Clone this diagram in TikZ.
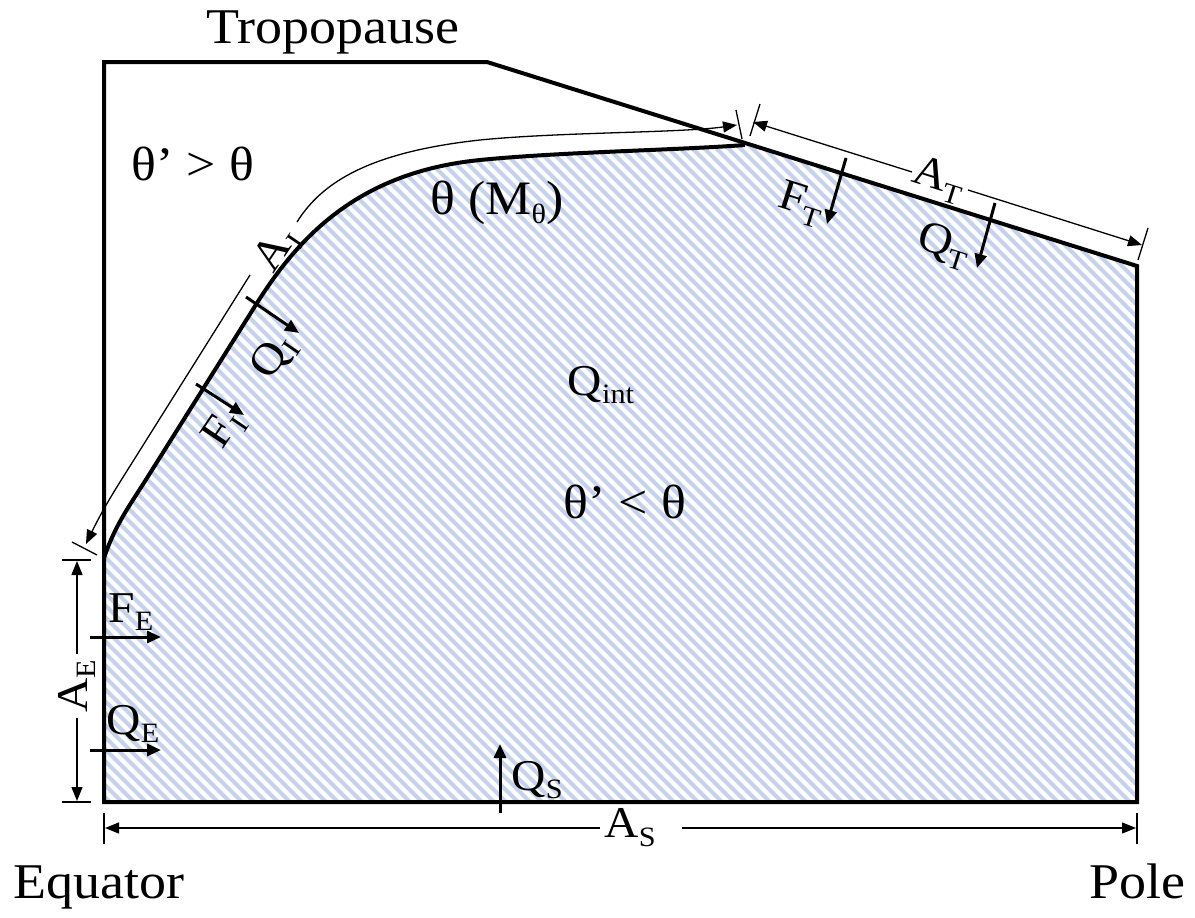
\documentclass[tikz,border=0pt]{standalone}
\usepackage{fontspec}
\setmainfont{Liberation Serif}[FakeStretch=1.08]
\usetikzlibrary{arrows.meta}
\definecolor{hatchblue}{RGB}{198,210,236}
\newcommand\sbx[1]{\raisebox{-0.2em}{\fontsize{28}{28}\selectfont #1}}
\begin{document}
\begin{tikzpicture}[x=1pt,y=-1pt,
  bound/.style={line width=4pt, line join=miter},
  hatchline/.style={hatchblue, line width=4.2pt},
  flux/.style={line width=3pt, -{Triangle[length=14pt,width=12pt]}},
  dimline/.style={line width=1.3pt},
  dimtip/.style={-{Triangle[length=14pt,width=11pt]}},
  tickline/.style={line width=1.3pt},
  big/.style={font=\fontsize{50}{50}\selectfont, inner sep=0pt},
  reg/.style={font=\fontsize{48}{48}\selectfont, inner sep=0pt},
  lab/.style={font=\fontsize{44}{44}\selectfont, inner sep=0pt}]
\useasboundingbox (0,0) rectangle (1195,918);
% corners
\coordinate (tl) at (104,62);
\coordinate (tk) at (487,62);
\coordinate (tr) at (1137,266);
\coordinate (br) at (1137,802);
\coordinate (bl) at (104,802);
\coordinate (cw) at (104,558);
\coordinate (tj) at (745,145);
% hatch
\begin{scope}
  \clip (cw) .. controls (115,525) and (130,505) .. (147,478) -- (257,303)
      .. controls (300,235) and (360,172) .. (480,160)
      .. controls (560,152) and (680,150) .. (tj) -- (tr) -- (br) -- (bl) -- cycle;
  \foreach \i in {-700,-688,...,1100} \draw[hatchline] (\i,40) -- ++(900,900);
\end{scope}
% isentrope
\draw[bound, line join=round] (cw) .. controls (115,525) and (130,505) .. (147,478) -- (257,303)
      .. controls (300,235) and (360,172) .. (480,160)
      .. controls (560,152) and (680,150) .. (tj);
% boundary
\draw[bound] (tl) -- (tk) -- (tr) -- (br) -- (bl) -- cycle;
% A_I dimension
\coordinate (ailo) at (86,544); \coordinate (aigap1) at (250,275);
\coordinate (aigap2) at (297,222); \coordinate (aihi) at (737,125);
\draw[dimline, dimtip] (aigap1) -- (120,482) .. controls (110,498) and (100,515) .. (ailo);
\draw[dimline, dimtip] (aigap2) .. controls (322,182) and (370,152) .. (480,140)
      .. controls (560,132) and (680,133) .. (aihi);
\coordinate (ai1) at (72,542); \coordinate (ai2) at (97,555);
\draw[tickline] (ai1) -- (ai2);
\coordinate (ai3) at (736,110); \coordinate (ai4) at (742,139);
\draw[tickline] (ai3) -- (ai4);
\node[lab, rotate=56] (AI) at (278,250) {A\sbx{I}};
% A_T dimension
\coordinate (at1) at (753,122); \coordinate (at2) at (912,172);
\coordinate (at3) at (968,190); \coordinate (at4) at (1142,245);
\draw[dimline, dimtip] (at2) -- (at1);
\draw[dimline, dimtip] (at3) -- (at4);
\coordinate (at5) at (760,104); \coordinate (at6) at (750,136);
\draw[tickline] (at5) -- (at6);
\coordinate (at7) at (1148,228); \coordinate (at8) at (1138,260);
\draw[tickline] (at7) -- (at8);
\node[lab, rotate=-17.5] (AT) at (939,180) {A\sbx{T}};
% A_E dimension
\coordinate (ae1) at (77,654); \coordinate (ae2) at (77,561);
\coordinate (ae3) at (77,718); \coordinate (ae4) at (77,801);
\draw[dimline, dimtip] (ae1) -- (ae2);
\draw[dimline, dimtip] (ae3) -- (ae4);
\coordinate (ae5) at (62,560); \coordinate (ae6) at (91,560);
\draw[tickline] (ae5) -- (ae6);
\coordinate (ae7) at (62,802); \coordinate (ae8) at (91,802);
\draw[tickline] (ae7) -- (ae8);
\node[lab, rotate=90] (AE) at (77,686) {A\sbx{E}};
% A_S dimension
\coordinate (as1) at (600,828); \coordinate (as2) at (105,828);
\coordinate (as3) at (682,828); \coordinate (as4) at (1136,828);
\draw[dimline, dimtip] (as1) -- (as2);
\draw[dimline, dimtip] (as3) -- (as4);
\coordinate (as5) at (104,813); \coordinate (as6) at (104,844);
\draw[tickline] (as5) -- (as6);
\coordinate (as7) at (1137,813); \coordinate (as8) at (1137,844);
\draw[tickline] (as7) -- (as8);
\node[lab] (AS) at (630,828) {A\sbx{S}};
% flux arrows
\coordinate (fe1) at (90,637); \coordinate (fe2) at (161,637);
\draw[flux] (fe1) -- (fe2);
\coordinate (qe1) at (90,750); \coordinate (qe2) at (161,750);
\draw[flux] (qe1) -- (qe2);
\coordinate (qs1) at (500,813); \coordinate (qs2) at (500,744);
\draw[flux] (qs1) -- (qs2);
\coordinate (fi1) at (196,384); \coordinate (fi2) at (244,415);
\draw[flux] (fi1) -- (fi2);
\coordinate (qi1) at (246,297); \coordinate (qi2) at (299,333);
\draw[flux] (qi1) -- (qi2);
\coordinate (ft1) at (846,158); \coordinate (ft2) at (827,224);
\draw[flux] (ft1) -- (ft2);
\coordinate (qt1) at (995,203); \coordinate (qt2) at (977,268);
\draw[flux] (qt1) -- (qt2);
% flux labels
\node[lab, anchor=base] (FE) at (131,622) {F\sbx{E}};
\node[lab, anchor=base] (QE) at (133,734) {Q\sbx{E}};
\node[lab, anchor=base] (QS) at (537,790) {Q\sbx{S}};
\node[lab, rotate=56] (FI) at (224,430) {F\sbx{I}};
\node[lab, rotate=56] (QI) at (274,357) {Q\sbx{I}};
\node[lab, rotate=-17.5] (FT) at (801,204) {F\sbx{T}};
\node[lab, rotate=-17.5] (QT) at (944,246) {Q\sbx{T}};
% region labels
\node[big, anchor=base] (trop) at (333,43) {Tropopause};
\node[big, anchor=base] (eq) at (99,898) {Equator};
\node[big, anchor=base] (pole) at (1137,898) {Pole};
\node[reg, anchor=base] (warm) at (193,180) {θ’ > θ};
\node[reg, anchor=base] (cold) at (625,518) {θ’ < θ};
\node[reg, anchor=base] (theta) at (497,214) {θ (M\sbx{θ})};
\node[lab, anchor=base] (qint) at (601,395) {Q\sbx{int}};
\end{tikzpicture}
\end{document}
